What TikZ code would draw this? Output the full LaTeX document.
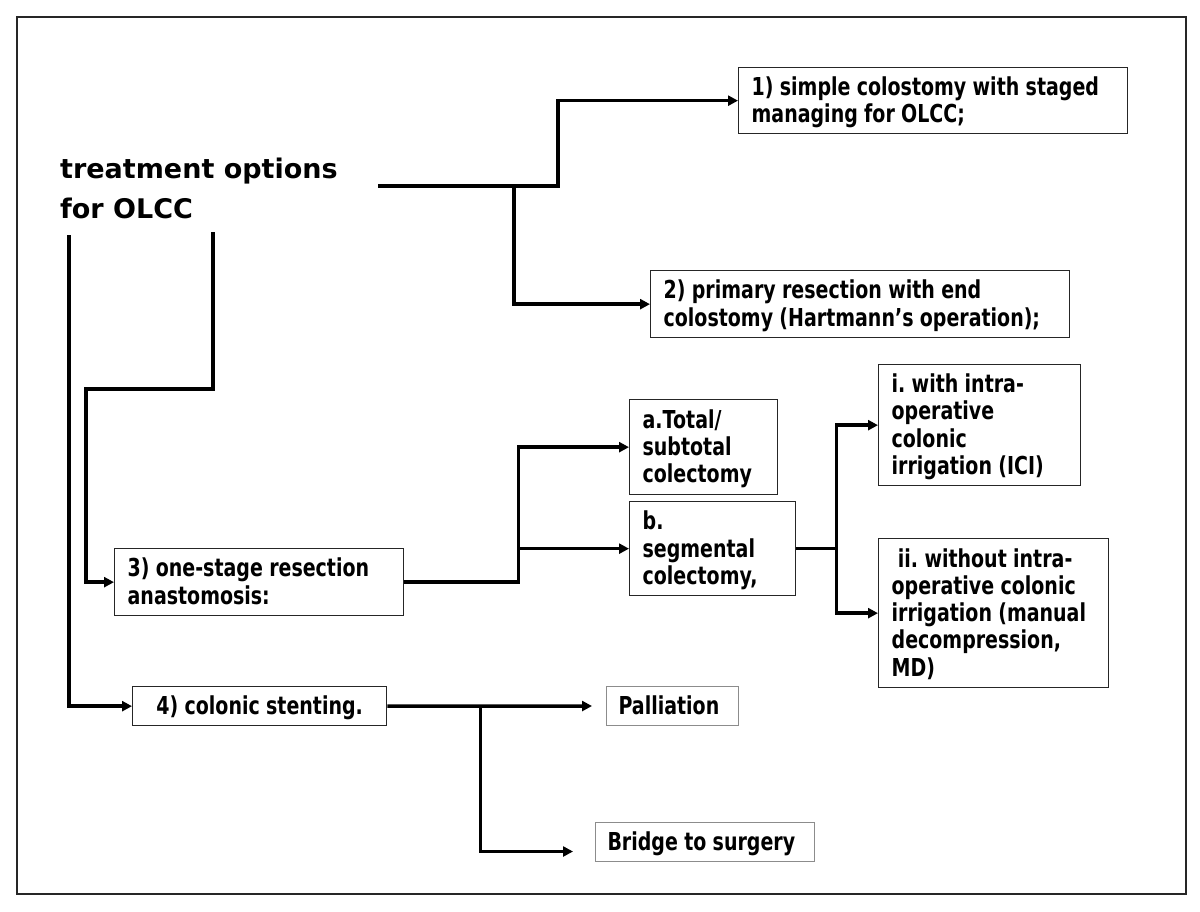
\documentclass[tikz,border=0pt]{standalone}
\usepackage{fontspec}
\usepackage{graphicx}
\setmainfont{DejaVu Sans}
\usetikzlibrary{arrows.meta,calc}
\newcommand{\tallbox}[1]{\raisebox{0pt}[\dimexpr\height+6pt\relax][\depth]{\scalebox{1}[1.3]{\frenchspacing\begin{tabular}{@{}l@{}}#1\end{tabular}}}}
\begin{document}
\begin{tikzpicture}[x=1pt,y=-1pt,
  txt/.style={font=\fontsize{19}{21}\selectfont\bfseries},
  box/.style={txt, draw=black!85, line width=1.3pt, anchor=north west, align=left,
              inner xsep=13pt, inner ysep=2pt},
  lightbox/.style={txt, draw=black!45, line width=1pt, anchor=north west, align=left,
              inner xsep=12pt, inner ysep=2pt},
  conn/.style={line width=3.5pt},
  arr/.style={line width=3.5pt, -{Triangle[length=10pt,width=10pt]}}]
\useasboundingbox (0,0) rectangle (1200,911);
\draw[line width=1.6pt, black!85] (17,17) rectangle (1186,894);

% title
\node[anchor=north west, inner sep=0pt, align=left,
      font=\fontsize{27}{40}\selectfont\bfseries] (title) at (60,158)
  {treatment options\\for OLCC};

% boxes
\node[box, text width=363pt, minimum height=66pt] (b1) at (738,67)
  {\tallbox{1) simple colostomy with staged\\managing for OLCC;}};
\node[box, text width=393pt, minimum height=67pt] (b2) at (650,270)
  {\tallbox{2) primary resection with end\\colostomy (Hartmann’s operation);}};
\node[box, text width=263pt, minimum height=67pt] (b3) at (114,548)
  {\tallbox{3) one-stage resection\\anastomosis:}};
\node[box, text width=122pt, minimum height=95pt] (ba) at (629,399)
  {\tallbox{a.Total/\\subtotal\\colectomy}};
\node[box, text width=140pt, minimum height=94pt] (bb) at (629,501)
  {\tallbox{b.\\segmental\\colectomy,}};
\node[box, text width=176pt, minimum height=121pt] (bi) at (878,364)
  {\tallbox{i. with intra-\\operative\\colonic\\irrigation (ICI)}};
\node[box, text width=204pt, minimum height=149pt] (bii) at (878,538)
  {\tallbox{\hspace{0.33em}ii. without intra-\\operative colonic\\irrigation (manual\\decompression,\\MD)}};
\node[box, align=center, text width=228pt, minimum height=39pt] (b4) at (132,686)
  {\tallbox{4) colonic stenting.}};
\node[lightbox, text width=108pt, minimum height=39pt] (pal) at (606,686)
  {\tallbox{Palliation}};
\node[lightbox, text width=195pt, minimum height=39pt] (bri) at (595,822)
  {\tallbox{Bridge to surgery}};

% connectors
\coordinate (t0) at (378,186);
\coordinate (t1) at (514,186);
\coordinate (t2) at (69,235);
\coordinate (t3) at (213,232);

\draw[conn] (t0) -- (t1);
\draw[arr] (t0) -- ++(180,0) |- (b1.west);
\draw[arr] (t1) |- (b2.west);
\draw[arr] (t2) |- (b4.west);
\draw[arr] (t3) -- ++(0,157) -- ++(-127,0) |- (b3.west);

\draw[arr] (b3.east) -- ++(114,0) |- (ba.west);
\draw[arr] (b3.east) -- ++(114,0) |- (bb.west);

\draw[arr] (bb.east) -- ++(40,0) |- (bi.west);
\draw[arr] (bb.east) -- ++(40,0) |- (bii.west);

\coordinate (j4) at ($(b4.east)+(93,0)$);
\draw[arr, shorten >=14pt] (b4.east) -- (pal.west);
\draw[arr, shorten >=22pt] (j4) |- ([yshift=-9.5pt]bri.west);
\end{tikzpicture}
\end{document}
